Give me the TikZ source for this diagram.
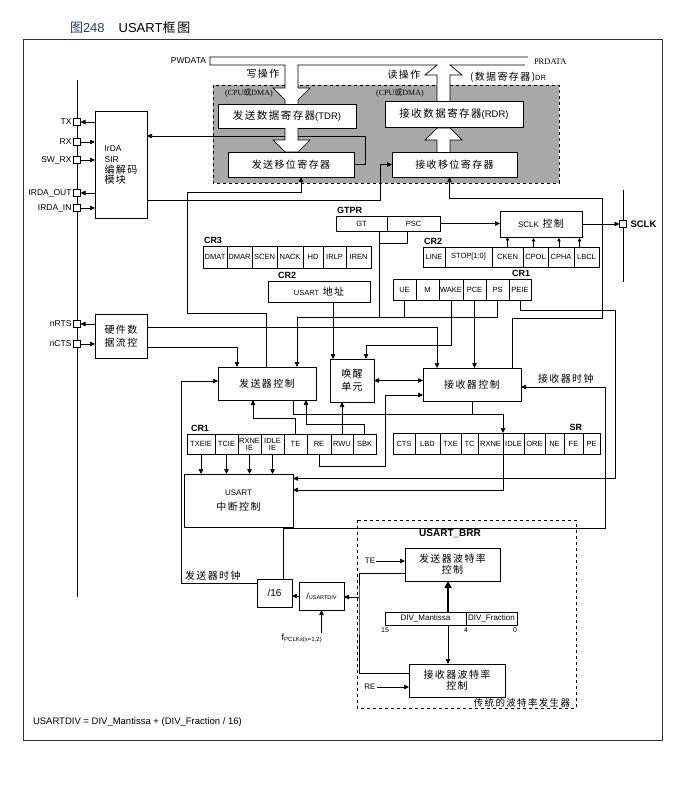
\documentclass[tikz,border=0pt]{standalone}
\usepackage{fontspec}
\setmainfont{Liberation Sans}
\newfontfamily\cjk{Noto Sans CJK SC}[LetterSpace=14]
\newfontfamily\tms{Liberation Serif}
\usetikzlibrary{positioning,arrows.meta}
\definecolor{regbg}{gray}{0.66}
\definecolor{figblue}{RGB}{40,62,120}
\newcommand\la[2][8]{{\normalfont\fontsize{#1}{#1}\selectfont #2}}

\begin{document}
\begin{tikzpicture}[
        x=1pt, y=-1pt,
        node distance = 0pt,
        line width = 0.7pt,
        every node/.style = {inner sep=1pt, outer sep=0pt, anchor=center},
        reg/.style  = {draw, fill=white, minimum height=21pt, inner xsep=0pt, align=center,
                       font=\fontsize{7.5}{7}\selectfont},
        blk/.style  = {draw, fill=white, align=center, font=\fontsize{10}{13}\selectfont\cjk},
        pin/.style  = {draw, fill=white, minimum size=7pt, inner sep=0pt},
        tag/.style  = {font=\fontsize{9}{10}\selectfont\bfseries},
        plbl/.style = {font=\fontsize{8.5}{9}\selectfont},
        zh/.style   = {font=\fontsize{10}{12}\selectfont\cjk},
        ar/.style   = {-{Triangle[length=5pt,width=4.5pt]}},
        sar/.style  = {-{Triangle[length=3.5pt,width=3.5pt]}},
    ]
    \useasboundingbox (0,0) rectangle (686,799);
    \node (t0) [anchor=west, font=\fontsize{13}{15}\selectfont] at (69,28)
        {\textcolor{figblue}{{\cjk 图}248}\hspace{14pt}USART{\cjk 框图}};
    \draw[black!80, line width=0.9pt] (23,39) rectangle (662,740);
%
    % data bus and the gray register block
    \draw[dashed, fill=regbg] (213,85) rectangle (559,183);
    \fill[white] (285,85) -- (285,88) -- (273,88) -- (285,100) -- (285,104) -- (298,104)
        -- (298,100) -- (310,88) -- (298,88) -- (298,85) -- cycle;
    \fill[white] (437,85) rectangle (450,101);
    \draw (528,57) -- (210,57) -- (210,65) -- (285,65) -- (285,88) -- (273,88) -- (285,100) -- (285,104);
    \draw (298,104) -- (298,100) -- (310,88) -- (298,88) -- (298,65) -- (437,65) -- (425,75) -- (437,75) -- (437,101);
    \draw (450,101) -- (450,75) -- (462,75) -- (450,65) -- (525,65);
    \node (t1) [plbl, anchor=east] at (207,61) {PWDATA};
    \node (t2) [anchor=west, font=\fontsize{8.5}{9}\selectfont\tms] at (533,62) {PRDATA};
    \node (t3) [zh] at (263,74) {写操作};
    \node (t4) [zh] at (404,75) {读操作};
    \node (t5) [font=\fontsize{8}{9}\selectfont\tms] at (249,93) {(CPU{\cjk\fontsize{8}{9}\selectfont 或}DMA)};
    \node (t6) [font=\fontsize{8}{9}\selectfont\tms] at (400,93) {(CPU{\cjk\fontsize{8}{9}\selectfont 或}DMA)};
    \node (t7) [zh] at (508,77) {(数据寄存器)\la[7.5]{DR}};
%
    \node (tdr) [blk, minimum width=138pt, minimum height=24pt, font=\fontsize{10.5}{13}\selectfont\cjk] at (287,116) {发送数据寄存器\la[9.5]{(TDR)}};
    \node (rdr) [blk, minimum width=138pt, minimum height=26pt, font=\fontsize{10.5}{13}\selectfont\cjk] at (454,114) {接收数据寄存器\la[9.5]{(RDR)}};
    \node (tsr) [blk, minimum width=126pt, minimum height=25pt] at (291,164.5) {发送移位寄存器};
    \node (rsr) [blk, minimum width=125pt, minimum height=25pt] at (454.5,164.5) {接收移位寄存器};
%
    % pins
    \coordinate (bus1) at (77,80);
    \coordinate (bus2) at (77,597);
    \draw (bus1) -- (bus2);
    \node (p1) [pin] at (77,122) {};
    \node (p2) [pin] at (77,142) {};
    \node (p3) [pin] at (77,160) {};
    \node (p4) [pin] at (77,193) {};
    \node (p5) [pin] at (77,208) {};
    \node (p6) [pin] at (77,324) {};
    \node (p7) [pin] at (77,344) {};
    \node [plbl, left=1pt of p1] {TX};
    \node [plbl, left=1pt of p2] {RX};
    \node [plbl, left=1pt of p3] {SW\_RX};
    \node [plbl, left=1pt of p4] {IRDA\_OUT};
    \node [plbl, left=1pt of p5] {IRDA\_IN};
    \node [plbl, left=1pt of p6] {nRTS};
    \node [plbl, left=1pt of p7] {nCTS};
%
    \node (irda) [blk, minimum width=52pt, minimum height=107pt, align=left] at (121,164.5)
        {\la[8.5]{IrDA}\\[-2pt]\la[8.5]{SIR}\\[-2pt]编解码\\[-3pt]模块};
    \node (hwfc) [blk, minimum width=52pt, minimum height=44pt] at (121,336) {硬件数\\据流控};
%
    % GTPR, SCLK, CR2, CR3
    \node (gt)  [reg, minimum height=15pt, minimum width=51pt, anchor=north west] at (336,216) {GT};
    \node (psc) [reg, minimum height=15pt, minimum width=53pt, right=of gt] {PSC};
    \node [tag, above=1pt of gt.north west, anchor=south west] {GTPR};
    \node (sclk) [blk, minimum width=82pt, minimum height=26pt] at (541,224) {\la{SCLK} 控制};
    \node (pS) [pin] at (623,224) {};
    \node [tag, right=3pt of pS, font=\fontsize{9.5}{10}\selectfont\bfseries] {SCLK};
%
    \node (r31) [reg, minimum height=22pt, minimum width=24pt, anchor=north west] at (203,246) {DMAT};
    \node (r32) [reg, minimum height=22pt, minimum width=25pt, right=of r31] {DMAR};
    \node (r33) [reg, minimum height=22pt, minimum width=25pt, right=of r32] {SCEN};
    \node (r34) [reg, minimum height=22pt, minimum width=26pt, right=of r33] {NACK};
    \node (r35) [reg, minimum height=22pt, minimum width=20pt, right=of r34] {HD};
    \node (r36) [reg, minimum height=22pt, minimum width=23pt, right=of r35] {IRLP};
    \node (r37) [reg, minimum height=22pt, minimum width=25pt, right=of r36] {IREN};
    \node [tag, above=1pt of r31.north west, anchor=south west] {CR3};
%
    \node (r21) [reg, minimum height=20pt, minimum width=22pt, anchor=north west] at (423,247) {LINE};
    \node (r22) [reg, minimum height=20pt, minimum width=47pt, right=of r21] {STOP[1:0]};
    \node (r23) [reg, minimum height=20pt, minimum width=31pt, right=of r22] {CKEN};
    \node (r24) [reg, minimum height=20pt, minimum width=25pt, right=of r23] {CPOL};
    \node (r25) [reg, minimum height=20pt, minimum width=26pt, right=of r24] {CPHA};
    \node (r26) [reg, minimum height=20pt, minimum width=25pt, right=of r25] {LBCL};
    \node [tag, above=1pt of r21.north west, anchor=south west] {CR2};
%
    \node (adr) [blk, minimum width=102pt, minimum height=21pt] at (319,291.5) {\la[7.5]{USART} 地址};
    \node [tag, above=1pt of adr.north west, anchor=south west, xshift=9pt] {CR2};
%
    \node (r11) [reg, minimum width=23pt, anchor=north west] at (393,279) {UE};
    \node (r12) [reg, minimum width=23pt, right=of r11] {M};
    \node (r13) [reg, minimum width=24pt, right=of r12] {WAKE};
    \node (r14) [reg, minimum width=23pt, right=of r13] {PCE};
    \node (r15) [reg, minimum width=23pt, right=of r14] {PS};
    \node (r16) [reg, minimum width=22pt, right=of r15] {PEIE};
    \node [tag, above=1pt of r16.north east, anchor=south east] {CR1};
%
    % control units
    \node (txc) [blk, minimum width=98pt, minimum height=33pt] at (267,383.5) {发送器控制};
    \node (wku) [blk, minimum width=44pt, minimum height=43pt] at (352,380.5) {唤醒\\单元};
    \node (rxc) [blk, minimum width=98pt, minimum height=33pt] at (472,384.5) {接收器控制};
    \node (t8) [zh, anchor=south west] at (537,384) {接收器时钟};
%
    \node (c1) [reg, minimum height=20pt, minimum width=28pt, anchor=north west] at (187,434) {TXEIE};
    \node (c2) [reg, minimum height=20pt, minimum width=23pt, right=of c1] {TCIE};
    \node (c3) [reg, minimum height=20pt, minimum width=23pt, right=of c2] {RXNE\\IE};
    \node (c4) [reg, minimum height=20pt, minimum width=23pt, right=of c3] {IDLE\\IE};
    \node (c5) [reg, minimum height=20pt, minimum width=23pt, right=of c4] {TE};
    \node (c6) [reg, minimum height=20pt, minimum width=24pt, right=of c5] {RE};
    \node (c7) [reg, minimum height=20pt, minimum width=22pt, right=of c6] {RWU};
    \node (c8) [reg, minimum height=20pt, minimum width=23pt, right=of c7] {SBK};
    \node [tag, above=1pt of c1.north west, anchor=south west, xshift=3pt] {CR1};
%
    \node (s1)  [reg, minimum width=22pt, anchor=north west] at (393,433) {CTS};
    \node (s2)  [reg, minimum width=25pt, right=of s1] {LBD};
    \node (s3)  [reg, minimum width=21pt, right=of s2] {TXE};
    \node (s4)  [reg, minimum width=17pt, right=of s3] {TC};
    \node (s5)  [reg, minimum width=25pt, right=of s4] {RXNE};
    \node (s6)  [reg, minimum width=21pt, right=of s5] {IDLE};
    \node (s7)  [reg, minimum width=21pt, right=of s6] {ORE};
    \node (s8)  [reg, minimum width=19pt, right=of s7] {NE};
    \node (s9)  [reg, minimum width=19pt, right=of s8] {FE};
    \node (s10) [reg, minimum width=17pt, right=of s9] {PE};
    \node [tag, above=1pt of s9.north east, anchor=south east] {SR};
%
    \node (itc) [blk, minimum width=109pt, minimum height=53pt] at (238.5,500.5) {\la{USART}\\[2pt]中断控制};
%
    % baud rate generator
    \draw[dashed] (357,520) rectangle (576,708);
    \node [tag, font=\fontsize{10}{11}\selectfont\bfseries] at (450,534) {USART\_BRR};
    \node (tbr) [blk, minimum width=95pt, minimum height=33pt] at (452.5,564.5) {发送器波特率\\[-2pt]控制};
    \node (rbr) [blk, minimum width=96pt, minimum height=33pt] at (457,680.5) {接收器波特率\\[-2pt]控制};
    \node (dm) [reg, minimum height=13pt, minimum width=81pt, anchor=north west, font=\fontsize{8}{8}\selectfont] at (385,612) {DIV\_Mantissa};
    \node (df) [reg, minimum height=13pt, minimum width=51pt, right=of dm, font=\fontsize{8}{8}\selectfont] {DIV\_Fraction};
    \node [below=2pt of dm.south west, font=\fontsize{7}{7}\selectfont] {15};
    \node [below=2pt of dm.south east, font=\fontsize{7}{7}\selectfont] {4};
    \node [below=2pt of df.south east, font=\fontsize{7}{7}\selectfont, xshift=-2pt] {0};
    \node (te2) [font=\fontsize{8}{8}\selectfont] at (370,561) {TE};
    \node (re2) [font=\fontsize{8}{8}\selectfont] at (370,687) {RE};
    \node [zh, font=\fontsize{9.5}{11}\selectfont\cjk, anchor=east] at (571,703) {传统的波特率发生器};
%
    \node (d16) [blk, minimum width=35pt, minimum height=28pt] at (274.5,593) {\la[10]{/16}};
    \node (udv) [blk, minimum width=45pt, minimum height=28pt] at (321.5,596) {\la[9]{/}\la[5.5]{USARTDIV}};
    \node (fclk) [font=\fontsize{9}{9}\selectfont] at (302,638) {f\textsubscript{PCLKx(x=1,2)}};
    \node (t9) [zh, anchor=south west] at (184,581) {发送器时钟};
    \node (t10) [anchor=west, font=\fontsize{9.5}{10}\selectfont] at (32,722) {USARTDIV = DIV\_Mantissa + (DIV\_Fraction / 16)};
%
    % connectors
    \coordinate (k1) at (365,136);
    \coordinate (k2) at (380,200);
    \coordinate (k3) at (187,313);
    \coordinate (k4) at (187,192);
    \coordinate (k7) at (297,317);
    \coordinate (k11) at (503,414);
    \coordinate (k12) at (615,310);
    \coordinate (k13) at (605,528);
    \coordinate (k14) at (181,583);
    \coordinate (k15) at (385,466);
    \coordinate (k16) at (602,318);
    \coordinate (k17) at (602,198);
    \coordinate (k18) at (359,597);
    \coordinate (sc1) at (623,190);
    \coordinate (sc2) at (623,282);
    \draw (sc1) -- (pS.north) (pS.south) -- (sc2);
%
    \draw[ar] (irda.west |- p1) -- (p1.east);
    \draw[ar] (p2.east) -- (irda.west |- p2);
    \draw[ar] (p3.east) -- (irda.west |- p3);
    \draw[ar] (irda.west |- p4) -- (p4.east);
    \draw[ar] (p5.east) -- (irda.west |- p5);
    \draw[ar] (hwfc.west |- p6) -- (p6.east);
    \draw[ar] (p7.east) -- (hwfc.west |- p7);
%
    \draw[ar] (tsr.east) -| (k1) -- (irda.east |- k1);
    \filldraw[fill=white] (285,128) -- (285,140) -- (273,140) -- (285,152) -- (298,152) -- (310,140) -- (298,140) -- (298,128);
    \filldraw[fill=white] (437,152) -- (437,140) -- (425,140) -- (437,128) -- (450,128) -- (462,140) -- (450,140) -- (450,152);
    \draw[ar] (irda.east |- k2) -- (k2) |- (rsr.west);
    \draw[ar] ([xshift=-1pt]txc.north) |- (k3) -- (k4) -| ([xshift=10pt]tsr.south);
    \draw[ar] ([xshift=40pt]rxc.north) |- (k16) -- (k17) -| ([xshift=-5pt]rsr.south);
%
    \draw[ar] (psc.east) -- (psc.east -| sclk.west);
    \draw[ar] (sclk.east) -- (pS.west);
    \draw[sar] (r23.north) -- (r23.north |- sclk.south);
    \draw[sar] ([xshift=-2pt]r24.north) -- ++(0,-9);
    \draw[sar] ([xshift=-2pt]r25.north) -- ++(0,-9);
    \draw[sar] ([xshift=-7pt]r26.north) -- ++(0,-9);
%
    \draw ([xshift=-6.5pt]psc.south) -- ++(0,12) -| ([xshift=17.5pt]gt.south);
    \draw ([xshift=17.5pt]gt.south) |- (k7);
    \draw (k7) -- (r15.south |- k7);
    \draw (r11.south) -- (r11.south |- k7);
    \draw (r15.south) -- (r15.south |- k7);
    \draw[ar] (k7) -- (k7 |- txc.north);
    \draw[ar] (r14.south) -- (r14.south |- rxc.north);
    \draw[ar] (r13.south) -- ++(0,45) -| ([xshift=14pt]wku.north);
    \draw[ar] ([xshift=14pt]adr.south) -- ([xshift=-19pt]wku.north);
%
    \draw[ar] ([yshift=9pt]hwfc.east) -| ([xshift=-35pt]rxc.north);
    \draw[ar] ([yshift=-11pt]hwfc.east) -| ([xshift=-30pt]txc.north);
    \draw[{Triangle[length=5pt,width=4.5pt]}-{Triangle[length=5pt,width=4.5pt]}] (wku.east) -- (wku.east -| rxc.west);
%
    \draw[ar] (c5.north) -- ++(0,-16) -| ([xshift=-14pt]txc.south);
    \draw[ar] (c8.north) -- ++(0,-10) -| ([xshift=39pt]txc.south);
    \draw[ar] (c7.north) -- (c7.north |- wku.south);
    \draw[ar] (c6.south) |- (k15) |- ([yshift=-10.5pt]rxc.west);
    \foreach \c in {c1,c2,c3,c4}
        \draw[ar] (\c.south) -- (\c.south |- itc.north);
%
    \draw ([xshift=26pt]txc.south) |- (k11);
    \draw (rxc.south) -- (rxc.south |- k11);
    \draw[ar] (k11) -- (s5.north east);
    \draw[ar] (s5.south east) |- ([yshift=10.5pt]itc.east);
    \draw[ar] (r16.south) |- (k12) |- ([yshift=22pt]itc.east);
%
    \draw[ar] ([xshift=8.5pt]d16.north) |- (k13) |- ([yshift=-2.5pt]rxc.east);
    \draw[ar] (d16.west |- k14) -- (k14) |- ([yshift=2.5pt]txc.west);
    \draw[ar] (udv.west) -- (udv.west -| d16.east);
    \draw[ar] (fclk.north -| udv.south) -- (udv.south);
    \draw ([yshift=-8.5pt]tbr.west) -| (k18) |- ([yshift=7.5pt]rbr.west);
    \draw[ar] (k18) -- (k18 -| udv.east);
    \draw[ar] (te2.east) -- (te2.east -| tbr.west);
    \draw[ar] (re2.east) -- (re2.east -| rbr.west);
    \draw[-{Triangle[length=7pt,width=7pt]}, line width=2pt] ([xshift=22.5pt]dm.north) -- ([xshift=-4.5pt]tbr.south);
    \draw[ar] ([xshift=22.5pt]dm.south) -- ([xshift=-9pt]rbr.north);
\end{tikzpicture}
\end{document}
